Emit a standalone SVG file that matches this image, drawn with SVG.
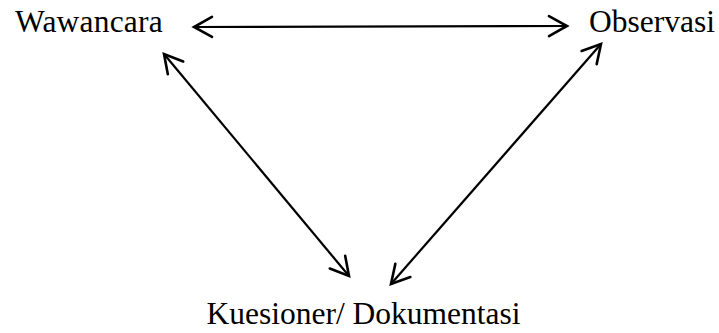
<svg xmlns="http://www.w3.org/2000/svg" width="719" height="333" viewBox="0 0 719 333">
<style>
text{font-family:"Liberation Serif","Times New Roman",serif;font-size:31.5px;fill:#000}
.c line{stroke:#000;stroke-width:2.2;fill:none}
</style>
<defs>
<marker id="ah" viewBox="0 0 24 24" refX="20" refY="12" markerWidth="24" markerHeight="24" markerUnits="userSpaceOnUse" orient="auto-start-reverse">
<path d="M2,2 L20,12 L2,22" fill="none" stroke="#000" stroke-width="2.6" stroke-linecap="round" stroke-linejoin="miter"/>
</marker>
</defs>
<rect width="719" height="333" fill="#fff"/>
<g id="wawancara"><text x="15" y="32" letter-spacing="0.2">Wawancara</text></g>
<g id="observasi"><text x="589" y="32">Observasi</text></g>
<g id="kuesioner"><text x="363.5" y="324" text-anchor="middle">Kuesioner/ Dokumentasi</text></g>
<g class="c" id="connectors">
<line x1="194" y1="27" x2="567" y2="26" marker-start="url(#ah)" marker-end="url(#ah)"/>
<line x1="164" y1="54" x2="349" y2="276" marker-start="url(#ah)" marker-end="url(#ah)"/>
<line x1="601" y1="44" x2="391" y2="284" marker-start="url(#ah)" marker-end="url(#ah)"/>
</g>
</svg>
